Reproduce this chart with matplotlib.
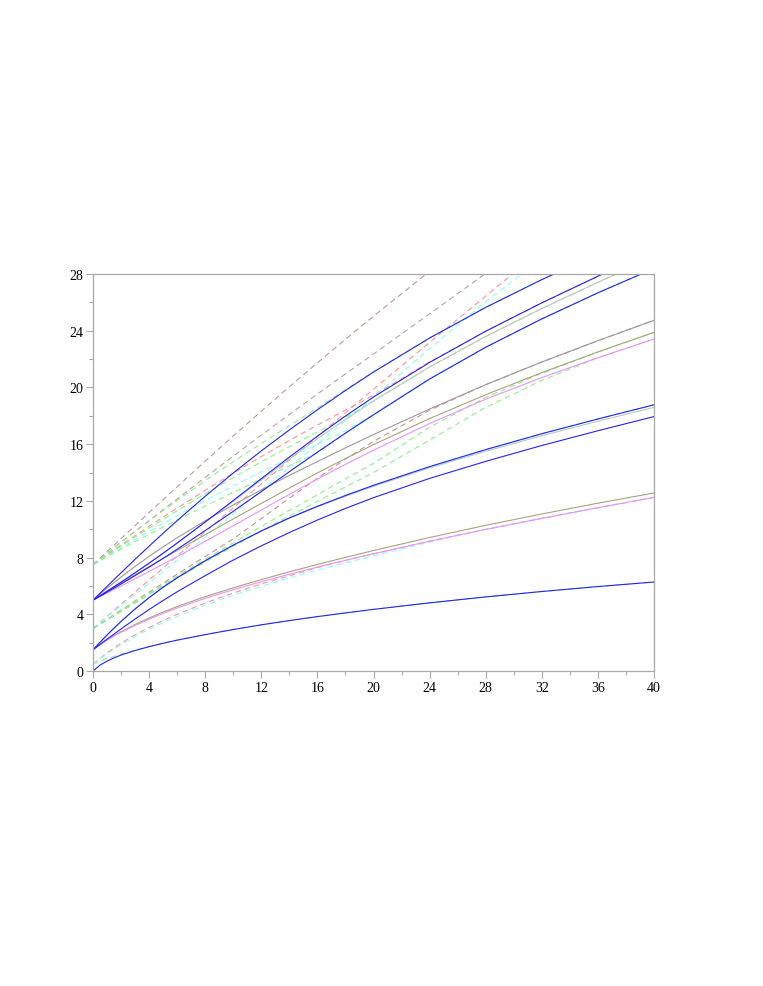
import matplotlib
matplotlib.use("Agg")
import matplotlib.pyplot as plt
from matplotlib.ticker import MultipleLocator

# common abscissa grid (read positions)
X = [0, 0.5, 1, 1.5, 2, 3, 4, 5, 6, 8, 10, 12, 14, 16, 18, 20, 24, 28, 32, 36, 40]

# ---- solid curves ----
blue0 = [0, 0.42, 0.7, 0.93, 1.13, 1.45, 1.72, 1.96, 2.18, 2.57, 2.93, 3.26, 3.56, 3.84, 4.1, 4.35, 4.81, 5.23, 5.61, 5.96, 6.28]
blue15a = [1.5, 2.03, 2.54, 3.03, 3.5, 4.38, 5.18, 5.91, 6.58, 7.78, 8.88, 9.88, 10.8, 11.62, 12.38, 13.1, 14.42, 15.62, 16.74, 17.78, 18.78]
gray15 = [1.5, 2.03, 2.54, 3.03, 3.5, 4.38, 5.18, 5.91, 6.58, 7.78, 8.88, 9.88, 10.78, 11.58, 12.33, 13.03, 14.33, 15.5, 16.6, 17.62, 18.6]
blue15b = [1.5, 1.88, 2.25, 2.61, 2.97, 3.67, 4.34, 4.98, 5.59, 6.73, 7.83, 8.83, 9.77, 10.65, 11.47, 12.23, 13.59, 14.79, 15.91, 16.95, 17.95]
olive15 = [1.5, 1.88, 2.21, 2.51, 2.78, 3.28, 3.74, 4.16, 4.55, 5.25, 5.87, 6.45, 7.0, 7.52, 8.02, 8.5, 9.42, 10.28, 11.08, 11.84, 12.56]
pink15 = [1.5, 1.86, 2.18, 2.47, 2.73, 3.22, 3.66, 4.07, 4.45, 5.13, 5.74, 6.3, 6.83, 7.33, 7.81, 8.27, 9.16, 9.99, 10.77, 11.52, 12.25]
blue5a = [5, 5.49, 5.97, 6.45, 6.93, 7.88, 8.81, 9.72, 10.61, 12.33, 13.97, 15.53, 17.01, 18.43, 19.79, 21.09, 23.49, 25.65, 27.61, 29.41, 31.09]
blue5b = [5, 5.31, 5.63, 5.95, 6.27, 6.93, 7.61, 8.31, 9.03, 10.51, 12.03, 13.57, 15.09, 16.57, 17.99, 19.33, 21.77, 23.97, 25.97, 27.85, 29.65]
gray5b = [5, 5.31, 5.63, 5.95, 6.27, 6.93, 7.61, 8.31, 9.03, 10.51, 11.97, 13.47, 14.95, 16.38, 17.75, 19.05, 21.45, 23.6, 25.57, 27.42, 29.2]
blue5c = [5, 5.28, 5.57, 5.85, 6.14, 6.73, 7.33, 7.95, 8.59, 9.91, 11.27, 12.66, 14.06, 15.44, 16.78, 18.08, 20.6, 22.84, 24.84, 26.68, 28.4]
gray5 = [5, 5.43, 5.84, 6.24, 6.63, 7.38, 8.09, 8.76, 9.4, 10.6, 11.72, 12.78, 13.8, 14.78, 15.74, 16.68, 18.48, 20.2, 21.8, 23.3, 24.74]
olive5 = [5, 5.31, 5.62, 5.92, 6.21, 6.79, 7.37, 7.94, 8.5, 9.62, 10.73, 11.83, 12.91, 13.97, 14.99, 15.97, 17.81, 19.49, 21.05, 22.51, 23.89]
pink5 = [5, 5.25, 5.5, 5.75, 6.0, 6.51, 7.02, 7.55, 8.07, 9.15, 10.25, 11.36, 12.46, 13.54, 14.58, 15.58, 17.46, 19.18, 20.7, 22.1, 23.42]

# ---- dashed curves ----
d75_rosy = [7.5, 7.96, 8.42, 8.88, 9.34, 10.26, 11.18, 12.09, 13.0, 14.8, 16.58, 18.33, 20.05, 21.74, 23.4, 25.03, 28.2, 31.25, 34.2, 37.0, 39.7]
d75_rosygray = [7.5, 7.9, 8.3, 8.7, 9.1, 9.86, 10.62, 11.38, 12.14, 13.66, 15.16, 16.64, 18.1, 19.54, 20.96, 22.36, 25.2, 28.05, 30.8, 33.5, 36.2]
d75_green1 = [7.5, 7.9, 8.29, 8.68, 9.07, 9.83, 10.58, 11.31, 12.03, 13.43, 14.77, 16.05, 17.3, 18.55, 19.85, 21.12, 23.5, 25.66, 27.62, 29.42, 31.1]
d75_salmon = [7.5, 7.85, 8.2, 8.54, 8.88, 9.55, 10.21, 10.86, 11.5, 12.75, 13.96, 15.13, 16.26, 17.35, 18.4, 19.45, 21.8, 23.97, 25.97, 27.85, 29.65]
d75_green2 = [7.5, 7.83, 8.16, 8.49, 8.81, 9.45, 10.08, 10.7, 11.31, 12.5, 13.65, 14.76, 15.83, 16.86, 17.9, 19.05, 21.45, 23.6, 25.57, 27.42, 29.2]
d75_cyan = [7.5, 7.8, 8.1, 8.4, 8.7, 9.28, 9.85, 10.41, 10.96, 12.03, 13.06, 14.06, 15.03, 15.98, 16.95, 18.08, 20.6, 22.84, 24.84, 26.68, 28.4]
d75_green3 = [7.5, 7.78, 8.06, 8.33, 8.6, 9.13, 9.65, 10.16, 10.66, 11.64, 12.6, 13.54, 14.47, 15.4, 16.78, 18.08, 20.6, 22.84, 24.84, 26.68, 28.4]

d3_rosy = [3, 3.33, 3.66, 3.98, 4.3, 4.94, 5.57, 6.2, 6.83, 8.08, 9.32, 10.75, 12.2, 13.6, 14.95, 16.2, 18.4, 20.2, 21.8, 23.3, 24.74]
d3_green1 = [3, 3.32, 3.64, 3.96, 4.27, 4.89, 5.5, 6.1, 6.7, 7.88, 9.05, 10.2, 11.33, 12.44, 13.55, 14.65, 17.2, 19.3, 21.0, 22.5, 23.89]
d3_green2 = [3, 3.31, 3.62, 3.93, 4.23, 4.83, 5.42, 6.0, 6.57, 7.69, 8.79, 9.87, 10.93, 11.97, 12.99, 14.0, 16.3, 18.6, 20.5, 22.1, 23.42]
d3_salmon = [3, 3.43, 3.86, 4.29, 4.72, 5.57, 6.42, 7.27, 8.12, 9.82, 11.51, 13.2, 14.88, 16.55, 18.22, 19.88, 23.18, 26.45, 29.7, 32.9, 36.1]
d3_cyan = [3, 3.41, 3.82, 4.22, 4.62, 5.42, 6.22, 7.02, 7.83, 9.46, 11.1, 12.74, 14.38, 16.02, 17.67, 19.33, 22.75, 26.05, 29.1, 32.0, 34.8]
d3_green3 = [3, 3.3, 3.6, 3.9, 4.2, 4.8, 5.4, 6.0, 6.6, 7.8, 8.88, 9.88, 10.8, 11.62, 12.38, 13.1, 14.42, 15.62, 16.74, 17.78, 18.78]

d05_green = [0.5, 0.7, 0.88, 1.04, 1.2, 1.47, 1.72, 1.96, 2.18, 2.57, 2.93, 3.26, 3.56, 3.84, 4.1, 4.35, 4.81, 5.23, 5.61, 5.96, 6.28]
d05_salmon = [0.5, 0.9, 1.28, 1.63, 1.96, 2.55, 3.08, 3.56, 4.0, 4.8, 5.5, 6.15, 6.72, 7.3, 7.81, 8.27, 9.16, 9.99, 10.77, 11.52, 12.25]
d05_cyan = [0.5, 0.87, 1.22, 1.55, 1.86, 2.43, 2.95, 3.42, 3.86, 4.65, 5.35, 5.98, 6.57, 7.12, 7.63, 8.12, 9.1, 9.99, 10.77, 11.52, 12.25]

x_ticks = [0, 4, 8, 12, 16, 20, 24, 28, 32, 36, 40]
y_ticks = [0, 4, 8, 12, 16, 20, 24, 28]

BLUE = "#2424f0"
ROSY = "#c89494"
GREEN = "#8ef08e"
SALMON = "#ff9292"
CYAN = "#88ffff"

fig = plt.figure(figsize=(7.63, 9.87), dpi=100)
ax = fig.add_axes([0.1219, 0.3191, 0.7353, 0.4022])

dash_kw = dict(lw=0.8, dashes=(5, 3.5))
for ys, c in [(d75_rosy, ROSY), (d75_rosygray, "#c0a0a0"), (d75_green1, GREEN),
              (d75_salmon, SALMON), (d75_green2, GREEN), (d75_cyan, CYAN),
              (d75_green3, GREEN),
              (d3_rosy, ROSY), (d3_green1, GREEN), (d3_green2, GREEN),
              (d3_salmon, SALMON), (d3_cyan, CYAN), (d3_green3, GREEN),
              (d05_green, GREEN), (d05_salmon, SALMON), (d05_cyan, CYAN)]:
    ax.plot(X, ys, color=c, **dash_kw)

solid_kw = dict(lw=0.8)
for ys, c in [(gray15, "#b8c8c8"), (gray5b, "#b8c8c8"),
              (gray5, "#a09898"), (olive5, "#a8a478"), (pink5, "#ec90ff"),
              (olive15, "#a8a478"), (pink15, "#ec90ff"),
              (blue0, BLUE), (blue15a, BLUE), (blue15b, BLUE),
              (blue5a, BLUE), (blue5b, BLUE), (blue5c, BLUE)]:
    ax.plot(X, ys, color=c, **solid_kw)

ax.set_xlim(0, 40)
ax.set_ylim(0, 28)
ax.set_xticks(x_ticks)
ax.set_yticks(y_ticks)
ax.xaxis.set_minor_locator(MultipleLocator(2))
ax.yaxis.set_minor_locator(MultipleLocator(2))
for s in ax.spines.values():
    s.set_color("#a8a8a8")
    s.set_linewidth(0.9)
ax.tick_params(which="major", direction="out", length=5, width=0.8, color="#a8a8a8",
               labelsize=10, pad=2)
ax.tick_params(which="minor", direction="out", length=3, width=0.8, color="#a8a8a8")
for lab in ax.get_xticklabels() + ax.get_yticklabels():
    lab.set_fontfamily("Liberation Serif")

fig.savefig("out.png", dpi=100)
